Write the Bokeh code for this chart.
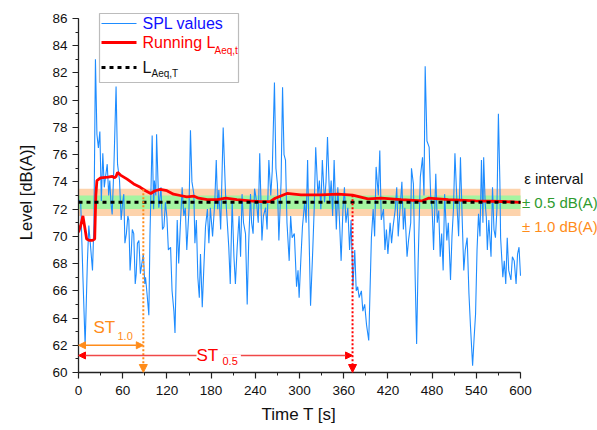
import numpy as np
from bokeh.plotting import figure
from bokeh.models import (Range1d, SingleIntervalTicker, BoxAnnotation,
                          Arrow, NormalHead, Label, Title)
from bokeh.embed import file_html
from bokeh.resources import INLINE

# ---------------- data ----------------
spl_t = [0, 3, 6, 9, 12, 14, 16, 19, 21, 23, 25, 27, 29, 31, 33, 35, 37, 39, 41, 42.5,
         44, 45.7, 48, 51, 53, 55.7, 57.9, 60, 61.5, 63, 65, 67, 68.3, 70, 71.5, 73, 75, 77,
         78.3, 80, 82, 84, 86, 88, 90, 91, 93, 95.5, 97, 100, 102, 103, 105, 106, 109, 112,
         114, 116, 118, 120, 122, 125, 127, 129.5, 131, 134, 136, 138, 140.7, 143, 145, 147,
         150, 152, 154, 156.6, 158, 160, 162, 164, 165.6, 168, 170, 172.4, 175, 177, 179,
         182, 185, 187, 189, 190.5, 193, 196.4, 199.6, 202, 204, 206, 208.6, 211, 213,
         215.4, 218, 220, 222, 224, 226.7, 229, 231, 233.5, 235, 237, 239, 241.6, 244, 246,
         249, 251, 254, 256, 258.4, 261, 263, 266, 268, 270, 272, 275, 277, 279, 281, 283,
         286, 288, 290, 293, 296, 298, 299.5, 302, 304, 307, 309, 311, 313, 315, 318, 320,
         322, 325, 327, 329, 331, 334, 336, 338, 341, 343, 345, 347, 350, 352, 354, 356.5,
         359, 361, 363, 365.6, 368, 370, 372.5, 375, 377, 379, 381, 384, 386, 388.5, 391,
         394, 397.6, 400, 402, 404, 407, 409, 411, 414, 416, 418, 420, 423, 425, 427, 430,
         432, 434, 436, 439, 441, 443, 446, 448, 451, 452, 454.6, 457, 459, 461, 464, 467,
         469, 470.6, 473, 476, 478, 480, 482, 485, 487, 489, 491, 493, 495, 497, 500, 502,
         505, 507, 509, 511, 514, 516, 518.5, 521, 523, 525, 527.6, 530, 532, 535, 537, 539,
         541, 543, 545, 547, 549, 550, 552, 553.6, 555, 557, 560, 562, 564, 566, 568, 570,
         572, 573, 576, 578, 580, 582, 584, 587, 589, 591.5, 594, 596, 598, 600]
spl_db = [72.7, 72.5, 67.0, 62.0, 68.0, 70.8, 69.5, 67.5, 71.0, 83.0, 77.5, 76.5, 77.7, 72.6,
          76.1, 73.6, 74.5, 75.3, 73.0, 74.1, 72.5, 71.6, 75.0, 81.0, 75.3, 74.1, 71.2, 72.5,
          73.1, 69.5, 70.2, 71.5, 71.2, 67.5, 68.7, 70.5, 70.2, 66.5, 67.2, 69.5, 69.7, 67.25,
          68.0, 68.7, 66.5, 67.0, 65.8, 64.2, 70.0, 77.4, 72.0, 74.1, 73.0, 77.5, 72.1, 73.6,
          70.5, 70.7, 72.5, 71.4, 69.0, 69.2, 66.0, 64.5, 62.9, 71.2, 68.0, 70.5, 73.6, 71.5,
          72.1, 69.0, 72.0, 77.8, 74.0, 73.1, 69.5, 71.2, 67.0, 65.5, 68.7, 64.8, 67.5, 70.7,
          72.0, 69.5, 72.1, 70.0, 72.5, 75.6, 72.0, 73.4, 70.5, 78.0, 73.1, 71.0, 69.2, 66.5,
          72.6, 68.5, 66.5, 69.2, 71.5, 68.5, 73.1, 71.0, 70.2, 65.0, 69.5, 73.1, 71.0, 70.2,
          73.5, 72.6, 71.0, 76.1, 69.7, 71.5, 72.1, 70.5, 75.6, 73.0, 74.8, 81.3, 75.0, 73.85,
          69.7, 74.0, 80.95, 76.0, 75.6, 71.0, 68.2, 71.5, 69.9, 70.2, 66.3, 67.5, 65.5, 68.5,
          70.7, 72.5, 71.0, 75.6, 70.0, 64.9, 69.0, 72.1, 76.55, 73.0, 74.1, 72.0, 75.6, 72.5,
          74.0, 77.3, 72.5, 74.1, 71.5, 75.6, 70.5, 73.6, 71.5, 68.2, 72.0, 73.6, 71.0, 72.1,
          69.0, 71.2, 66.3, 69.0, 66.0, 66.3, 65.5, 66.0, 64.5, 65.0, 63.5, 62.35, 69.9, 72.0,
          70.0, 75.1, 73.0, 76.3, 71.2, 72.0, 69.0, 70.5, 68.7, 71.0, 69.5, 70.7, 72.0, 73.6,
          70.0, 71.65, 74.0, 70.5, 72.1, 68.5, 69.7, 71.0, 75.0, 73.85, 67.0, 62.1, 68.0,
          74.35, 75.8, 73.0, 82.5, 77.0, 76.55, 73.0, 72.1, 69.0, 74.6, 71.0, 71.9, 68.5,
          70.2, 67.5, 73.1, 69.7, 71.0, 66.8, 70.0, 72.0, 76.1, 72.1, 70.0, 75.8, 71.0, 67.5,
          69.0, 69.9, 65.8, 63.5, 60.5, 62.5, 64.3, 69.0, 71.65, 70.0, 75.6, 71.0, 75.8, 72.5,
          71.4, 69.0, 71.2, 68.5, 73.6, 70.5, 69.9, 72.0, 79.0, 74.0, 69.9, 67.0, 68.2, 66.5,
          69.9, 67.5, 66.8, 68.5, 68.2, 66.5, 68.7, 69.2, 67.1]

run_t = [0, 3, 6, 9, 11, 15, 19, 22, 23.5, 25, 30, 40, 46, 49, 51, 53, 57, 66, 75, 84, 91,
         98, 104, 111, 120, 129, 138, 147, 157, 163, 175, 188, 200, 215, 233, 247, 260, 267,
         283, 302, 329, 352, 372, 393, 411, 438, 466, 475, 502, 539, 575, 600]
run_db = [70.3, 70.8, 71.5, 70.5, 69.8, 69.7, 69.7, 69.8, 73.0, 74.1, 74.3, 74.35, 74.4,
          74.3, 74.4, 74.7, 74.5, 74.2, 73.85, 73.6, 73.35, 73.15, 73.35, 73.45, 73.35, 73.1,
          73.0, 72.9, 72.95, 72.8, 72.7, 72.7, 72.8, 72.7, 72.6, 72.55, 72.55, 72.8, 73.15,
          73.05, 73.05, 73.1, 73.02, 72.75, 72.8, 72.7, 72.6, 72.8, 72.7, 72.6, 72.56, 72.5]

T_START, T_END = 0, 600          # measurement period [s]
L_MIN, L_MAX = 60, 86            # level axis [dB(A)]
LAEQ_T = 72.5                    # overall L_Aeq,T
EPS_SMALL = 0.5                  # +/- 0.5 dB(A)
EPS_LARGE = 1.0                  # +/- 1.0 dB(A)
ST_10 = 88                       # settling time for 1.0 dB(A)
ST_05 = 372                      # settling time for 0.5 dB(A)
ARROW_Y_10 = 62.0
ARROW_Y_05 = 61.25

# ---------------- geometry ----------------
FONT = "Liberation Sans"
BLUE = "#1E8CFF"
RED = "#FF0000"
ORANGE = "#FF8C1A"
GREEN_TXT = "#2E9B2E"
AXIS = "#222222"

PAGE_W, PAGE_H = 597, 430
FRAME_LEFT, FRAME_TOP, FRAME_BOTTOM = 78, 12, 372
AXIS_RIGHT, AXIS_TOP = 520, 18          # where 600 s and 86 dB(A) sit on the page
FRAME_W = PAGE_W - FRAME_LEFT
FRAME_H = FRAME_BOTTOM - FRAME_TOP
x_view_end = T_START + (T_END - T_START) * FRAME_W / (AXIS_RIGHT - FRAME_LEFT)
y_view_end = L_MIN + (L_MAX - L_MIN) * FRAME_H / (FRAME_BOTTOM - AXIS_TOP)


def sx(px):
    return px - FRAME_LEFT


def sy(py):
    return FRAME_BOTTOM - py


p = figure(frame_width=FRAME_W, frame_height=FRAME_H, output_backend="svg",
           toolbar_location=None, x_range=Range1d(T_START, x_view_end),
           y_range=Range1d(L_MIN, y_view_end),
           min_border_left=FRAME_LEFT, min_border_right=0, min_border_top=FRAME_TOP,
           min_border_bottom=PAGE_H - FRAME_BOTTOM)
p.outline_line_color = None
p.xgrid.visible = False
p.ygrid.visible = False
p.background_fill_color = "white"
p.border_fill_color = "white"

for ax in (p.xaxis[0], p.yaxis[0]):
    ax.axis_line_color = AXIS
    ax.axis_line_width = 1.3
    ax.major_tick_line_color = AXIS
    ax.minor_tick_line_color = AXIS
    ax.major_tick_line_width = 1.2
    ax.minor_tick_line_width = 1.0
    ax.major_tick_out = 6
    ax.major_tick_in = 0
    ax.minor_tick_out = 3
    ax.minor_tick_in = 0
    ax.major_label_text_font = FONT
    ax.major_label_text_font_size = "13.5px"
    ax.major_label_text_color = "#111111"
    ax.axis_label_text_font = FONT
    ax.axis_label_text_font_style = "normal"
    ax.axis_label_text_color = "#111111"

p.xaxis.bounds = (T_START, T_END)
p.yaxis.bounds = (L_MIN, L_MAX)
p.xaxis.ticker = SingleIntervalTicker(interval=60, num_minor_ticks=2)
p.yaxis.ticker = SingleIntervalTicker(interval=2, num_minor_ticks=2)
p.yaxis.axis_label = "Level [dB(A)]"
p.yaxis.axis_label_text_font_size = "16.5px"
p.xaxis.major_label_standoff = 7
p.yaxis.major_label_standoff = 5
p.yaxis.axis_label_standoff = 14

# x-axis title, centred under the 0..600 s part of the axis
x_title = Title(text="Time T [s]", align="left", offset=183, standoff=11,
                text_font=FONT, text_font_size="17px", text_font_style="normal",
                text_color="#111111")
p.add_layout(x_title, "below")

# epsilon bands
p.add_layout(BoxAnnotation(bottom=LAEQ_T - EPS_LARGE, top=LAEQ_T + EPS_LARGE,
                           left=T_START, right=T_END, fill_color="#FDD3AC", fill_alpha=1.0,
                           line_color=None, level="underlay"))
p.add_layout(BoxAnnotation(bottom=LAEQ_T - EPS_SMALL, top=LAEQ_T + EPS_SMALL,
                           left=T_START, right=T_END, fill_color="#A4F4A0", fill_alpha=1.0,
                           line_color=None, level="underlay"))

# series
p.line(spl_t, spl_db, line_color=BLUE, line_width=1.1)
p.line(run_t, run_db, line_color=RED, line_width=2.8)
p.add_layout(Arrow(x_start=T_START, y_start=LAEQ_T, x_end=T_END, y_end=LAEQ_T, end=None,
                   line_color="black", line_width=3, line_dash="4 4"))

# settling-time markers
st10_top = float(np.interp(ST_10, run_t, run_db))
st05_top = float(np.interp(ST_05, run_t, run_db))
p.add_layout(Arrow(x_start=ST_10, y_start=st10_top, x_end=ST_10, y_end=L_MIN,
                   line_color=ORANGE, line_width=2, line_dash="2 2",
                   end=NormalHead(size=8, fill_color=ORANGE, line_color=ORANGE)))
p.add_layout(Arrow(x_start=ST_05, y_start=st05_top, x_end=ST_05, y_end=L_MIN,
                   line_color=RED, line_width=2, line_dash="2 2",
                   end=NormalHead(size=8, fill_color=RED, line_color=RED)))
p.add_layout(Arrow(x_start=T_START, y_start=ARROW_Y_10, x_end=ST_10, y_end=ARROW_Y_10,
                   line_color=ORANGE, line_width=1.5,
                   start=NormalHead(size=7, fill_color=ORANGE, line_color=ORANGE),
                   end=NormalHead(size=7, fill_color=ORANGE, line_color=ORANGE)))
p.add_layout(Arrow(x_start=T_START, y_start=ARROW_Y_05, x_end=ST_05, y_end=ARROW_Y_05,
                   line_color="#F04848", line_width=1.5,
                   start=NormalHead(size=7, fill_color=RED, line_color=RED),
                   end=NormalHead(size=7, fill_color=RED, line_color=RED)))

# ST labels
p.add_layout(Label(x=sx(93), y=sy(327), x_units="screen", y_units="screen", text="ST",
                   text_font=FONT, text_font_size="17px", text_color=ORANGE,
                   text_baseline="middle"))
p.add_layout(Label(x=sx(117), y=sy(335), x_units="screen", y_units="screen", text="1.0",
                   text_font=FONT, text_font_size="11px", text_color=ORANGE,
                   text_baseline="middle"))
p.add_layout(Label(x=sx(196), y=sy(355), x_units="screen", y_units="screen", text=" ST",
                   text_font=FONT, text_font_size="17px", text_color=RED,
                   text_baseline="middle", background_fill_color="white"))
p.add_layout(Label(x=sx(222), y=sy(360), x_units="screen", y_units="screen", text="0.5 ",
                   text_font=FONT, text_font_size="11px", text_color=RED,
                   text_baseline="middle", background_fill_color="white"))

# epsilon interval texts (right of the data area)
p.add_layout(Label(x=T_END + 5, y=LAEQ_T + 1.75, text="\u03b5 interval", text_font=FONT,
                   text_font_size="15px", text_color="#111111", text_baseline="middle"))
p.add_layout(Label(x=T_END + 2, y=LAEQ_T, text="\u00b1 0.5 dB(A)", text_font=FONT,
                   text_font_size="15px", text_color=GREEN_TXT, text_baseline="middle"))
p.add_layout(Label(x=T_END + 2, y=LAEQ_T - 1.8, text="\u00b1 1.0 dB(A)", text_font=FONT,
                   text_font_size="15px", text_color=ORANGE, text_baseline="middle"))

# hand-made legend (box, swatches, texts with subscripts)
p.add_layout(BoxAnnotation(left=sx(99), right=sx(238), top=sy(13), bottom=sy(82),
                           left_units="screen", right_units="screen",
                           top_units="screen", bottom_units="screen",
                           fill_color="white", fill_alpha=1.0,
                           line_color="#222222", line_width=1.2))
p.add_layout(Arrow(x_start=sx(101), y_start=sy(23), x_end=sx(136), y_end=sy(23),
                   start_units="screen", end_units="screen", end=None,
                   line_color=BLUE, line_width=1.2))
p.add_layout(Arrow(x_start=sx(101), y_start=sy(42), x_end=sx(136), y_end=sy(42),
                   start_units="screen", end_units="screen", end=None,
                   line_color=RED, line_width=3))
p.add_layout(Arrow(x_start=sx(101), y_start=sy(67), x_end=sx(136), y_end=sy(67),
                   start_units="screen", end_units="screen", end=None,
                   line_color="black", line_width=3, line_dash="4 4"))
p.add_layout(Label(x=sx(142), y=sy(23), x_units="screen", y_units="screen",
                   text="SPL values", text_font=FONT, text_font_size="16px",
                   text_color="#1010FF", text_baseline="middle"))
p.add_layout(Label(x=sx(142), y=sy(42), x_units="screen", y_units="screen",
                   text="Running L", text_font=FONT, text_font_size="16px",
                   text_color=RED, text_baseline="middle"))
p.add_layout(Label(x=sx(214), y=sy(50), x_units="screen", y_units="screen",
                   text="Aeq,t", text_font=FONT, text_font_size="10px",
                   text_color=RED, text_baseline="middle"))
p.add_layout(Label(x=sx(142), y=sy(67), x_units="screen", y_units="screen",
                   text="L", text_font=FONT, text_font_size="16px",
                   text_color="#111111", text_baseline="middle"))
p.add_layout(Label(x=sx(151), y=sy(73), x_units="screen", y_units="screen",
                   text="Aeq,T", text_font=FONT, text_font_size="10px",
                   text_color="#111111", text_baseline="middle"))

open("out.html", "w").write(file_html(p, INLINE))
